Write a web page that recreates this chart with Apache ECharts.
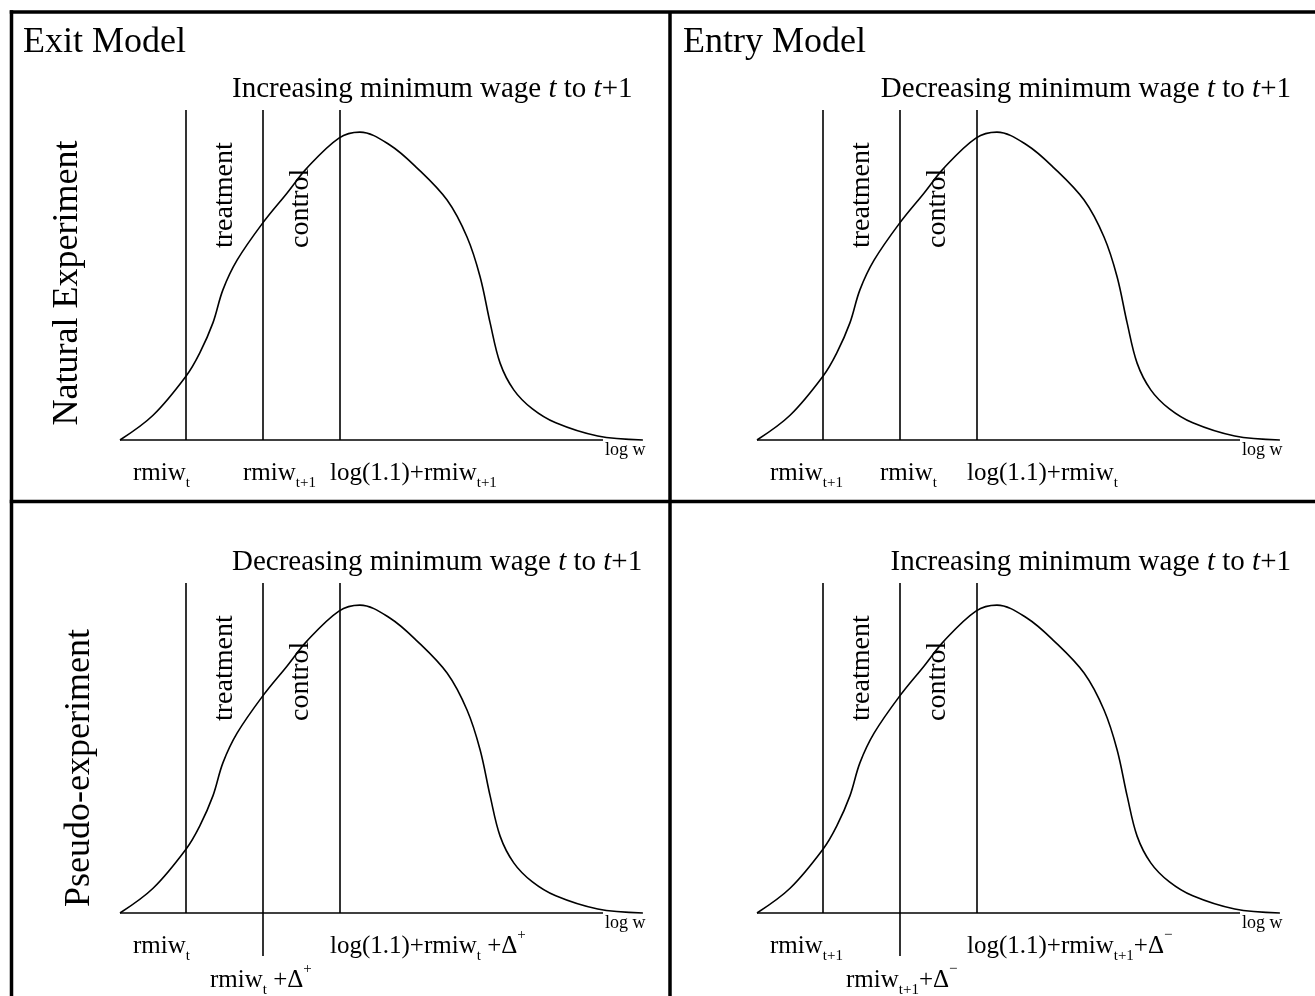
<!DOCTYPE html>
<html>
<head>
<meta charset="utf-8">
<script src="https://cdn.jsdelivr.net/npm/echarts@6/dist/echarts.min.js"></script>
<style>
html,body{margin:0;padding:0;background:#fff;}
#chart{width:1315px;height:996px;}
</style>
</head>
<body>
<div id="chart"></div>
<script>
// ---- data (panel units: x 0..100 along log w, y 0..100 density) ----
const curveX = [0, 6.3, 12.6, 15.2, 17.7, 19.6, 22.3, 27.2, 31.8, 35.6, 41.7, 45.7, 51.4, 56.6, 62.3, 66.1, 68.6, 70.5, 72.4, 75.0, 78.5, 83.0, 91.0, 99.6];
const curveY = [0, 7.5, 19.4, 26.4, 35.5, 45.5, 54.5, 65.8, 74.8, 82.4, 91.5, 93.3, 89.4, 82.4, 72.7, 61.5, 49.4, 35.5, 23.3, 15.2, 9.5, 5.2, 1.2, 0];
const cutoffs = [12.6, 27.1, 41.9];
const baseEnd = 92.0;
const lineTop = 100;
const extendedBottom = -13;

const panelTitles = ['Exit Model', 'Entry Model'];
const rowTitles = ['Natural Experiment', 'Pseudo-experiment'];
const subtitles = [
  ['Increasing', 'Decreasing'],
  ['Decreasing', 'Increasing']
];
const treatLabel = 'treatment';
const controlLabel = 'control';
const axisName = 'log w';

// ---- layout ----
const F = '"Liberation Serif", "Times New Roman", serif';
const yMin = -15, yMax = 100, unitPx = 3.3;
const panels = [
  {left: 120, top: 110, dx: 0, dy: 0, ext: false},
  {left: 757, top: 110, dx: 637, dy: 0, ext: false},
  {left: 120, top: 583, dx: 0, dy: 473, ext: true},
  {left: 757, top: 583, dx: 637, dy: 473, ext: true}
];

const grids = [], xAxes = [], yAxes = [], series = [];
panels.forEach((p, i) => {
  grids.push({left: p.left, top: p.top, width: 525, height: (yMax - yMin) * unitPx});
  xAxes.push({type: 'value', gridIndex: i, min: 0, max: 100, show: false});
  yAxes.push({type: 'value', gridIndex: i, min: yMin, max: yMax, show: false});
  const mlData = cutoffs.map((c, k) => [
    {coord: [c, (p.ext && k === 1) ? extendedBottom : 0]},
    {coord: [c, lineTop]}
  ]);
  series.push({
    type: 'line', xAxisIndex: i, yAxisIndex: i, smooth: 0.35, symbol: 'none',
    clip: false, silent: true,
    lineStyle: {color: '#000', width: 1.6},
    data: curveX.map((x, k) => [x, curveY[k]]),
    markLine: {
      silent: true, symbol: 'none', animation: false,
      label: {show: false},
      lineStyle: {color: '#000', width: 1.6, type: 'solid'},
      emphasis: {disabled: true},
      data: mlData
    }
  });
  series.push({
    type: 'line', xAxisIndex: i, yAxisIndex: i, symbol: 'none', clip: false, silent: true,
    lineStyle: {color: '#000', width: 1.6},
    data: [[0, 0], [baseEnd, 0]]
  });
});

const richLab = {
  m: {fontSize: 25, fontFamily: F, color: '#000', lineHeight: 36, verticalAlign: 'middle'},
  s: {fontSize: 15, fontFamily: F, color: '#000', lineHeight: 13, verticalAlign: 'bottom'},
  p: {fontSize: 15, fontFamily: F, color: '#000', lineHeight: 22, verticalAlign: 'top'}
};
const richSub = {
  n: {fontSize: 29, fontFamily: F, color: '#000'},
  i: {fontSize: 29, fontFamily: F, color: '#000', fontStyle: 'italic'}
};

function txt(x, y, text, opt) {
  return {
    type: 'text', x: x, y: y, silent: true,
    style: Object.assign({text: text, fill: '#000', font: '25px ' + F, align: 'left', verticalAlign: 'middle'}, opt || {})
  };
}
function rtxt(x, y, text, rich, align) {
  return {type: 'text', x: x, y: y, silent: true,
    style: {text: text, rich: rich, align: align || 'left', verticalAlign: 'middle', fill: '#000', font: '25px ' + F}};
}

const g = [];
// frame
const bw = 3.5;
g.push({type: 'line', shape: {x1: 11.5, y1: 10.25, x2: 11.5, y2: 1100}, style: {stroke: '#000', lineWidth: bw}});
g.push({type: 'line', shape: {x1: 9.75, y1: 12, x2: 1400, y2: 12}, style: {stroke: '#000', lineWidth: bw}});
g.push({type: 'line', shape: {x1: 670, y1: 12, x2: 670, y2: 1100}, style: {stroke: '#000', lineWidth: bw}});
g.push({type: 'line', shape: {x1: 9.75, y1: 501.5, x2: 1400, y2: 501.5}, style: {stroke: '#000', lineWidth: bw}});

// titles
g.push(txt(23, 43, panelTitles[0], {font: '36px ' + F}));
g.push(txt(683, 43, panelTitles[1], {font: '36px ' + F}));
// row titles (rotated)
g.push(Object.assign(txt(68, 283, rowTitles[0], {font: '36px ' + F, align: 'center'}), {rotation: Math.PI / 2}));
g.push(Object.assign(txt(80, 768, rowTitles[1], {font: '36px ' + F, align: 'center'}), {rotation: Math.PI / 2}));

function subtitleText(word) {
  return '{n|' + word + ' minimum wage }{i|t}{n| to }{i|t}{n|+1}';
}
panels.forEach((p, i) => {
  const row = i < 2 ? 0 : 1, col = i % 2;
  if (col === 0) {
    g.push(rtxt(232, 89 + p.dy, subtitleText(subtitles[row][col]), richSub, 'left'));
  } else {
    g.push(rtxt(1291, 89 + p.dy, subtitleText(subtitles[row][col]), richSub, 'right'));
  }
  g.push(Object.assign(txt(224.5 + p.dx, 248 + p.dy, treatLabel, {font: '28px ' + F, align: 'left'}), {rotation: Math.PI / 2}));
  g.push(Object.assign(txt(300.5 + p.dx, 248 + p.dy, controlLabel, {font: '28px ' + F, align: 'left'}), {rotation: Math.PI / 2}));
  g.push(txt(605 + p.dx, 450 + p.dy, axisName, {font: '18px ' + F}));
});

// bottom labels
const L = 473;
// top-left
g.push(rtxt(133, L, '{m|rmiw}{s|t}', richLab));
g.push(rtxt(243, L, '{m|rmiw}{s|t+1}', richLab));
g.push(rtxt(330, L, '{m|log(1.1)+rmiw}{s|t+1}', richLab));
// top-right
g.push(rtxt(770, L, '{m|rmiw}{s|t+1}', richLab));
g.push(rtxt(880, L, '{m|rmiw}{s|t}', richLab));
g.push(rtxt(967, L, '{m|log(1.1)+rmiw}{s|t}', richLab));
// bottom-left
g.push(rtxt(133, L + 473, '{m|rmiw}{s|t}', richLab));
g.push(rtxt(210, L + 507, '{m|rmiw}{s|t}{m| +Δ}{p|+}', richLab));
g.push(rtxt(330, L + 473, '{m|log(1.1)+rmiw}{s|t}{m| +Δ}{p|+}', richLab));
// bottom-right
g.push(rtxt(770, L + 473, '{m|rmiw}{s|t+1}', richLab));
g.push(rtxt(846, L + 507, '{m|rmiw}{s|t+1}{m|+Δ}{p|−}', richLab));
g.push(rtxt(967, L + 473, '{m|log(1.1)+rmiw}{s|t+1}{m|+Δ}{p|−}', richLab));

const chart = echarts.init(document.getElementById('chart'));
chart.setOption({
  animation: false,
  backgroundColor: '#fff',
  grid: grids, xAxis: xAxes, yAxis: yAxes, series: series,
  graphic: g
});
</script>
</body>
</html>
